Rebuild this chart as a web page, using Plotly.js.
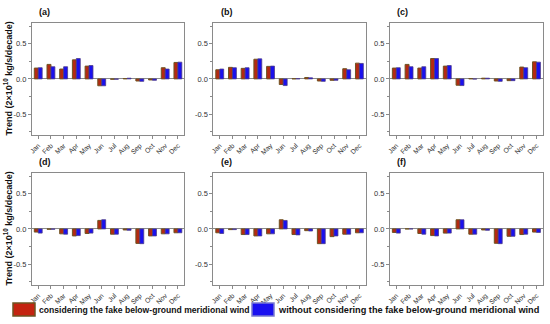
<!DOCTYPE html>
<html><head><meta charset="utf-8">
<script src="https://cdn.plot.ly/plotly-3.0.1.min.js"></script>
<style>html,body{margin:0;padding:0;background:#fff}#chart{width:550px;height:324px}</style>
</head><body><div id="chart"></div>
<script>
const months = ['Jan','Feb','Mar','Apr','May','Jun','Jul','Aug','Sep','Oct','Nov','Dec'];
const panelLabels = ['(a)','(b)','(c)','(d)','(e)','(f)'];
const seriesNames = ['considering the fake below-ground meridional wind','without considering the fake below-ground meridional wind'];
const aWith    = [0.154,0.206,0.140,0.271,0.182,-0.098,-0.005,0.005,-0.030,-0.015,0.159,0.234];
const aWithout = [0.159,0.173,0.173,0.290,0.190,-0.098,-0.005,0.010,-0.035,-0.020,0.140,0.238];
const bWith    = [0.130,0.164,0.150,0.280,0.178,-0.080,0.003,0.020,-0.030,-0.020,0.145,0.224];
const bWithout = [0.140,0.159,0.159,0.285,0.182,-0.095,0.003,0.015,-0.035,-0.020,0.130,0.220];
const cWith    = [0.154,0.206,0.154,0.290,0.182,-0.090,0.005,0.010,-0.030,-0.025,0.168,0.243];
const cWithout = [0.159,0.173,0.173,0.290,0.190,-0.095,-0.003,0.010,-0.035,-0.025,0.159,0.238];
const dWith    = [-0.045,-0.005,-0.070,-0.100,-0.065,0.121,-0.075,-0.015,-0.206,-0.100,-0.070,-0.055];
const dWithout = [-0.060,-0.005,-0.075,-0.095,-0.060,0.131,-0.075,-0.020,-0.210,-0.100,-0.070,-0.055];
const eWith    = [-0.055,-0.010,-0.080,-0.100,-0.070,0.130,-0.080,-0.025,-0.210,-0.110,-0.075,-0.055];
const eWithout = [-0.065,-0.010,-0.080,-0.100,-0.070,0.120,-0.085,-0.030,-0.210,-0.100,-0.075,-0.055];
const fWith    = [-0.050,0.000,-0.065,-0.095,-0.060,0.130,-0.075,-0.015,-0.205,-0.105,-0.080,-0.045];
const fWithout = [-0.060,0.000,-0.075,-0.100,-0.060,0.130,-0.075,-0.020,-0.210,-0.105,-0.075,-0.050];
const yTickVals = [-0.5,0.0,0.5];
const yTickText = ['-0.5','0.0','0.5'];

const panels = [[aWith,aWithout],[bWith,bWithout],[cWith,cWithout],[dWith,dWithout],[eWith,eWithout],[fWith,fWithout]];
const xDom = [[0.058,0.335],[0.388,0.665],[0.709,0.987]];
const yDom = [[0.583,0.930],[0.120,0.467]];
const redFill = '#b42a12', redEdge = '#6e5422';
const blueFill = '#1a10ee', blueEdge = '#4b3a8a';
const font = 'Arial, "Liberation Sans", sans-serif';

const traces = [];
const layout = {
  width:550, height:324, margin:{l:0,r:0,t:0,b:0},
  paper_bgcolor:'#fff', plot_bgcolor:'#fff',
  barmode:'group', bargap:0.38, bargroupgap:0,
  font:{family:font, size:8, color:'#222'},
  showlegend:false,
  annotations:[], shapes:[]
};
panels.forEach((p,i)=>{
  const r = Math.floor(i/3), c = i%3, k = i+1;
  const xa = 'x'+(k===1?'':k), ya = 'y'+(k===1?'':k);
  traces.push({type:'bar', x:months, y:p[0], name:seriesNames[0], marker:{color:redFill, line:{color:redEdge, width:1}}, xaxis:xa, yaxis:ya});
  traces.push({type:'bar', x:months, y:p[1], name:seriesNames[1], marker:{color:blueFill, line:{color:blueEdge, width:0.8}}, xaxis:xa, yaxis:ya});
  const xn = 'xaxis'+(k===1?'':k), yn = 'yaxis'+(k===1?'':k);
  layout[xn] = {domain:xDom[c], anchor:ya, showline:true, mirror:true, linecolor:'#8a8a8a', linewidth:1,
    ticks:'outside', ticklen:3, tickcolor:'#8a8a8a', tickangle:-45, tickfont:{size:6.8, color:'#333'},
    showgrid:false, zeroline:false, fixedrange:true};
  layout[yn] = {domain:yDom[r], anchor:xa, range:[-0.8,0.8], showline:true, mirror:true, linecolor:'#8a8a8a', linewidth:1,
    ticks:'outside', ticklen:3, tickcolor:'#8a8a8a', tickvals:yTickVals, ticktext:yTickText, tickfont:{size:7.5, color:'#333'},
    minor:{ticks:'outside', ticklen:2, tickcolor:'#8a8a8a', dtick:0.25},
    showgrid:false, zeroline:true, zerolinecolor:'#8a8a8a', zerolinewidth:1, fixedrange:true};
  layout.annotations.push({text:'<b>'+panelLabels[i]+'</b>', xref:'paper', yref:'paper',
    x:xDom[c][0]+0.01, y:yDom[r][1]+0.012, xanchor:'left', yanchor:'bottom', showarrow:false,
    font:{family:font, size:9, color:'#111'}});
});
[0,1].forEach(r=>{
  layout.annotations.push({text:'<b>Trend (2×10<sup>10</sup> kg/s/decade)</b>', xref:'paper', yref:'paper',
    x:0.014, y:(yDom[r][0]+yDom[r][1])/2, xanchor:'center', yanchor:'middle', textangle:-90, showarrow:false,
    font:{family:font, size:9, color:'#111'}});
});
// manual legend (pixel-based paper coords)
const W = 550, H = 324;
const legY = 1 - 309.5/H;
const legItems = [
  {x0:13, x1:35, fill:'#c42410', edge:redEdge, tx:37, size:8.6, text:seriesNames[0]},
  {x0:252, x1:274, fill:'#1a10f0', edge:'#7a7ad0', tx:276, size:9.2, text:seriesNames[1]}
];
legItems.forEach(it=>{
  layout.shapes.push({type:'rect', xref:'paper', yref:'paper', x0:it.x0/W, x1:it.x1/W,
    y0:1-316/H, y1:1-303/H, fillcolor:it.fill, line:{color:it.edge, width:1.5}});
  layout.annotations.push({text:'<b>'+it.text+'</b>', xref:'paper', yref:'paper', x:it.tx/W, y:legY,
    xanchor:'left', yanchor:'middle', showarrow:false, font:{family:font, size:it.size, color:'#111'}});
});
Plotly.newPlot('chart', traces, layout, {staticPlot:true, displayModeBar:false});
</script></body></html>
